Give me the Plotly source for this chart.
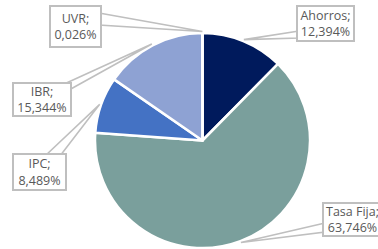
import math
import plotly.graph_objects as go

labels = ["Ahorros", "Tasa Fija", "IPC", "IBR", "UVR"]
values = [12.394, 63.746, 8.489, 15.344, 0.026]
value_text = ["12,394%", "63,746%", "8,489%", "15,344%", "0,026%"]
colors = ["#001A5C", "#7A9F9C", "#4472C4", "#8EA2D3", "#B4C0E2"]

W, H = 378, 249
cx, cy, r = 202.5, 140.5, 107.5

# label boxes in pixels (x0, y0, x1, y1)
boxes = {
    "Ahorros": (296, 5, 355, 42),
    "Tasa Fija": (322, 202, 383, 237),
    "IPC": (12, 153, 67, 191),
    "IBR": (12, 82, 72, 117),
    "UVR": (49, 5, 102, 48),
}
# callout pointer bases (pixels)
bases = {
    "Ahorros": [(299, 31), (299, 38)],
    "Tasa Fija": [(325, 223), (325, 232)],
    "IPC": [(45, 156), (60, 156)],
    "IBR": [(62, 85), (69, 90)],
    "UVR": [(99, 13), (99, 25)],
}

def px(x, y):
    return x / W, (H - y) / H

fig = go.Figure(go.Pie(
    labels=labels, values=values, sort=False, direction="clockwise", rotation=0,
    marker=dict(colors=colors, line=dict(color="white", width=2.5)),
    textinfo="none", hoverinfo="none", showlegend=False,
    domain=dict(x=[(cx - r) / W, (cx + r) / W], y=[(H - cy - r) / H, (H - cy + r) / H]),
))

total = sum(values)
cum = 0.0
shapes = []
annotations = []
border = "#BFBFBF"
for lab, v, vt in zip(labels, values, value_text):
    mid = (cum + v / 2) / total
    cum += v
    th = 2 * math.pi * mid
    rr = r + 1.5
    tx, ty = cx + rr * math.sin(th), cy - rr * math.cos(th)
    (b1x, b1y), (b2x, b2y) = bases[lab]
    p0 = px(tx, ty); p1 = px(b1x, b1y); p2 = px(b2x, b2y)
    shapes.append(dict(
        type="path", xref="paper", yref="paper",
        path=f"M {p1[0]} {p1[1]} L {p0[0]} {p0[1]} L {p2[0]} {p2[1]} Z",
        fillcolor="white", line=dict(color=border, width=1.6), layer="above"))
    x0, y0, x1, y1 = boxes[lab]
    c = px((x0 + x1) / 2, (y0 + y1) / 2)
    annotations.append(dict(
        x=c[0], y=c[1], xref="paper", yref="paper", xanchor="center", yanchor="middle",
        text=f"{lab};<br>{vt}", showarrow=False, align="center",
        width=x1 - x0 - 6, height=y1 - y0 - 6, borderpad=1,
        bgcolor="white", bordercolor=border, borderwidth=2,
        font=dict(family="Open Sans", size=12.5, color="#595959")))

fig.update_layout(
    width=W, height=H, margin=dict(l=0, r=0, t=0, b=0),
    paper_bgcolor="white", plot_bgcolor="white",
    shapes=shapes, annotations=annotations,
)
fig.write_html("out.html", post_script="document.body.style.margin='0';",
               config={"displayModeBar": False})
